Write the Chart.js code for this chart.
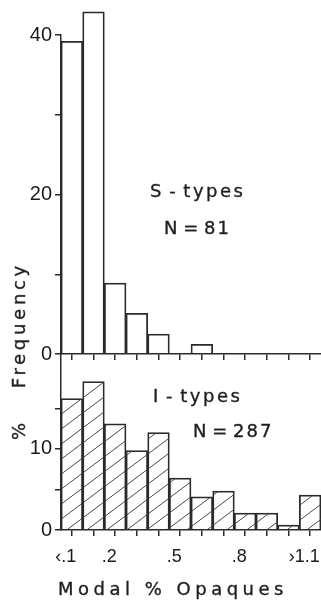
<!DOCTYPE html>
<html>
<head>
<meta charset="utf-8">
<script src="https://cdn.jsdelivr.net/npm/chart.js@4.4.1/dist/chart.umd.min.js"></script>
<style>
  html, body { margin: 0; padding: 0; background: #fff; width: 321px; height: 600px; overflow: hidden; }
  canvas { position: absolute; left: 0; }
  #sTypes { top: 0; }
  #iTypes { top: 340px; }
  .lbl { position: absolute; font-family: 'DejaVu Sans', sans-serif; font-size: 18px; line-height: 20px;
         color: #1e1e1e; white-space: pre; -webkit-text-stroke: 0.35px #1e1e1e; }
  #yTitle { left: 19px; top: 351px; letter-spacing: 3.7px; word-spacing: 6px;
            transform: translate(-50%, -50%) rotate(-90deg); }
</style>
</head>
<body>
<canvas id="sTypes" width="321" height="362"></canvas>
<canvas id="iTypes" width="321" height="260"></canvas>

<div class="lbl" id="yTitle">%  Frequency</div>
<div class="lbl" style="left:150px; top:181px; letter-spacing:2.5px; word-spacing:-3px">S - types</div>
<div class="lbl" style="left:164px; top:218px; letter-spacing:2px; word-spacing:-4px">N = 81</div>
<div class="lbl" style="left:153px; top:386px; letter-spacing:2.5px; word-spacing:-3px">I - types</div>
<div class="lbl" style="left:193px; top:421px; letter-spacing:2px; word-spacing:-4px">N = 287</div>
<div class="lbl" style="left:58px; top:579px; letter-spacing:4.5px">Modal % Opaques</div>

<script>
// bins of modal opaque content, shared by both histograms
const bins = ['‹.1', '.1', '.2', '.3', '.4', '.5', '.6', '.7', '.8', '.9', '1.0', '›1.1'];
const shownBins = ['‹.1', '.2', '.5', '.8', '›1.1'];

// % frequency per bin
const sTypesPct = [39.2, 42.9, 8.9, 5.1, 2.5, 0, 1.2, 0, 0, 0, 0, 0];
const iTypesPct = [16.2, 18.3, 13.1, 9.8, 12.0, 6.4, 4.1, 4.8, 2.1, 2.1, 0.6, 4.3];

// labelled y ticks
const sTicks = [0, 20, 40];
const iTicks = [0, 10];

const ink = '#2a2a2a';
const yFont = { family: 'Liberation Sans', size: 20 };
const xFont = { family: 'Liberation Sans', size: 18 };

// diagonal hatching for the I-type bars
function makeHatch() {
    const w = 20, h = 15;
    const c = document.createElement('canvas');
    c.width = w;
    c.height = h;
    const g = c.getContext('2d');
    g.strokeStyle = '#4a4a4a';
    g.lineWidth = 1;
    g.beginPath();
    for (let k = -1; k <= 1; k++) {
        g.moveTo(k * w - w, 2 * h);
        g.lineTo(k * w + 2 * w, -h);
    }
    g.stroke();
    return g.createPattern(c, 'repeat');
}

function fixX(h) {
    return s => { s.height = h; s.paddingLeft = 0; s.paddingRight = 0; };
}
function fixY(s) {
    s.width = 61;
    s.paddingTop = 0;
    s.paddingBottom = 0;
}

const axisLine = { color: ink, width: 1.5 };
const tickMarks = { offset: false, drawOnChartArea: false, tickLength: 6, color: ink, lineWidth: 1.5 };

// S-types, upper panel
new Chart(document.getElementById('sTypes'), {
    type: 'bar',
    data: {
        labels: bins,
        datasets: [{
            data: sTypesPct,
            backgroundColor: 'rgba(255,255,255,0)',
            borderColor: ink,
            borderWidth: 1.1,
            barPercentage: 1,
            categoryPercentage: 1,
            clip: false
        }]
    },
    options: {
        responsive: false,
        animation: false,
        layout: { padding: { top: 35, left: 0, right: 0, bottom: 0 } },
        plugins: { legend: { display: false }, tooltip: { enabled: false } },
        scales: {
            x: {
                grid: tickMarks,
                border: axisLine,
                ticks: { display: false },
                afterFit: fixX(8)
            },
            y: {
                min: 0,
                max: 40,
                ticks: {
                    stepSize: 10,
                    padding: 3,
                    color: '#1a1a1a',
                    font: yFont,
                    callback: v => sTicks.includes(v) ? v : ''
                },
                grid: tickMarks,
                border: axisLine,
                afterFit: fixY
            }
        }
    }
});

// I-types, lower panel
new Chart(document.getElementById('iTypes'), {
    type: 'bar',
    data: {
        labels: bins,
        datasets: [{
            data: iTypesPct,
            backgroundColor: makeHatch(),
            borderColor: ink,
            borderWidth: 1.1,
            barPercentage: 1,
            categoryPercentage: 1
        }]
    },
    options: {
        responsive: false,
        animation: false,
        layout: { padding: { top: 14, left: 0, right: 0, bottom: 0 } },
        plugins: { legend: { display: false }, tooltip: { enabled: false } },
        scales: {
            x: {
                grid: tickMarks,
                border: axisLine,
                ticks: {
                    autoSkip: false,
                    maxRotation: 0,
                    padding: 10,
                    labelOffset: -6,
                    color: '#1a1a1a',
                    font: xFont,
                    callback: (v, i) => shownBins.includes(bins[i]) ? bins[i] : ''
                },
                afterFit: fixX(70)
            },
            y: {
                min: 0,
                max: 21.7,
                ticks: {
                    stepSize: 5,
                    padding: 3,
                    color: '#1a1a1a',
                    font: yFont,
                    callback: v => iTicks.includes(v) ? v : ''
                },
                afterBuildTicks: s => { s.ticks = s.ticks.filter(t => t.value <= 15); },
                grid: tickMarks,
                border: axisLine,
                afterFit: fixY
            }
        }
    }
});
</script>
</body>
</html>
